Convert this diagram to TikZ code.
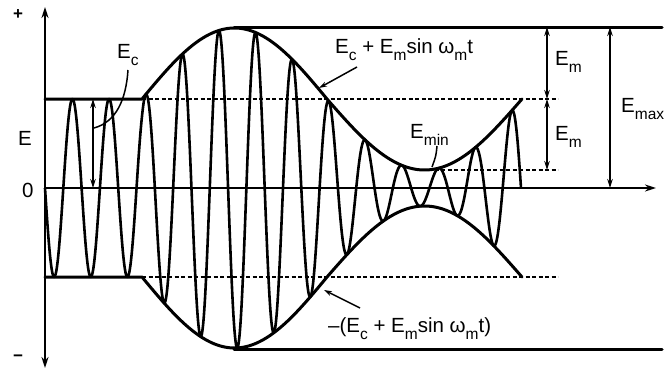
\documentclass[tikz,border=0pt]{standalone}
\usepackage{fontspec}
\setmainfont{Liberation Sans}
\usetikzlibrary{arrows.meta}
\newcommand\mysub[1]{\raisebox{-7pt}{\fontsize{15.5}{15.5}\selectfont #1}}
\begin{document}
\begin{tikzpicture}[x=1pt,y=-1pt,
  declare function={
    envA(\t)=(\t<142)?89:((\t<327)?(89+71*sin(0.972973*(\t-142))):(89+71*sin(180+0.923077*(\t-327))));
    carr(\t)=sin(9.831933*(\t-45));
  },
  every node/.style={font=\fontsize{20.5}{24}\selectfont, inner sep=0pt},
  envline/.style={line width=3pt, line cap=round, line join=round},
  carrierline/.style={line width=2.6pt, line join=round},
  axisline/.style={line width=2.5pt},
  guideline/.style={line width=1.5pt, dash pattern=on 4pt off 2.5pt},
  dimarrow/.style={line width=1.5pt, {Stealth[length=9pt,width=5.5pt]}-{Stealth[length=9pt,width=5.5pt]}},
  leaderline/.style={line width=1.5pt},
  leaderarrow/.style={line width=1.5pt, -{Stealth[length=8pt,width=5pt]}},
]
\useasboundingbox (0,0) rectangle (669,372);

% key coordinates
\coordinate (axTop) at (45,7);
\coordinate (axBot) at (45,368);
\coordinate (origin) at (45,188);
\coordinate (axRight) at (656,188);
\coordinate (ecL) at (45,99);
\coordinate (ecS) at (142,99);
\coordinate (ecR) at (558,99);
\coordinate (necL) at (45,277);
\coordinate (necS) at (142,277);
\coordinate (necR) at (558,277);
\coordinate (maxL) at (234,27);
\coordinate (maxR) at (662,27);
\coordinate (nmaxL) at (234,349);
\coordinate (nmaxR) at (662,349);
\coordinate (minL) at (428,170);
\coordinate (minR) at (558,170);

% guide lines
\draw[guideline] (ecS) -- (ecR);
\draw[guideline] (necS) -- (necR);
\draw[guideline] (minL) -- (minR);

% axes
\draw[axisline, {Stealth[length=11pt,width=7pt]}-{Stealth[length=11pt,width=7pt]}] (axBot) -- (axTop);
\draw[axisline, -{Stealth[length=11pt,width=7pt]}] (origin) -- (axRight);

% max / min solid lines
\draw[envline] (maxL) -- (maxR);
\draw[envline] (nmaxL) -- (nmaxR);

% carrier
\draw[carrierline] plot[domain=45:521, samples=1000] (\x, {188+envA(\x)*carr(\x)});

% envelopes
\draw[envline] (ecL) -- (ecS) -- plot[domain=142:522, samples=200] (\x, {188-envA(\x)});
\draw[envline] (necL) -- (necS) -- plot[domain=142:522, samples=200] (\x, {188+envA(\x)});

% dimension arrows
\coordinate (emA) at (547,27);
\coordinate (emB) at (547,99);
\coordinate (emC) at (547,170);
\coordinate (mxA) at (610,27);
\coordinate (mxB) at (610,188);
\coordinate (ecA) at (93,99);
\coordinate (ecB) at (93,188);
\draw[dimarrow] (emA) -- (emB);
\draw[dimarrow] (emB) -- (emC);
\draw[dimarrow] (mxA) -- (mxB);
\draw[dimarrow] (ecA) -- (ecB);

% labels
\node (plus) at (18,15) {\fontsize{17}{17}\selectfont\bfseries +};
\node (minus) at (18,358) {\fontsize{17}{17}\selectfont\bfseries −};
\node[anchor=base west] (lblE) at (18,145) {E};
\node[anchor=base west] (lbl0) at (22,197) {0};
\node[anchor=base west] (lblEc) at (117,58) {E\mysub{c}};
\node[anchor=base west] (lblUp) at (335,53) {E\mysub{c} + E\mysub{m}sin ω\mysub{m}t};
\node[anchor=base west] (lblMin) at (410,138) {E\mysub{min}};
\node[anchor=base west] (lblEm1) at (555,65) {E\mysub{m}};
\node[anchor=base west] (lblEm2) at (555,140) {E\mysub{m}};
\node[anchor=base west] (lblMax) at (621,112) {E\mysub{max}};
\node[anchor=base west] (lblLow) at (328,332) {–(E\mysub{c} + E\mysub{m}sin ω\mysub{m}t)};

% leaders
\coordinate (ecLeadS) at (128,70);
\coordinate (ecLeadE) at (94,128);
\draw[leaderline] (ecLeadS) .. controls (126,100) and (116,122) .. (ecLeadE);
\coordinate (upLeadS) at (357,67);
\coordinate (upLeadE) at (319,88);
\draw[leaderarrow] (upLeadS) -- (upLeadE);
\coordinate (minLeadS) at (437,146);
\coordinate (minLeadE) at (432,167);
\draw[leaderline] (minLeadS) .. controls (436,156) .. (minLeadE);
\coordinate (lowLeadS) at (360,308);
\coordinate (lowLeadE) at (324,290);
\draw[leaderarrow] (lowLeadS) -- (lowLeadE);
\end{tikzpicture}
\end{document}
